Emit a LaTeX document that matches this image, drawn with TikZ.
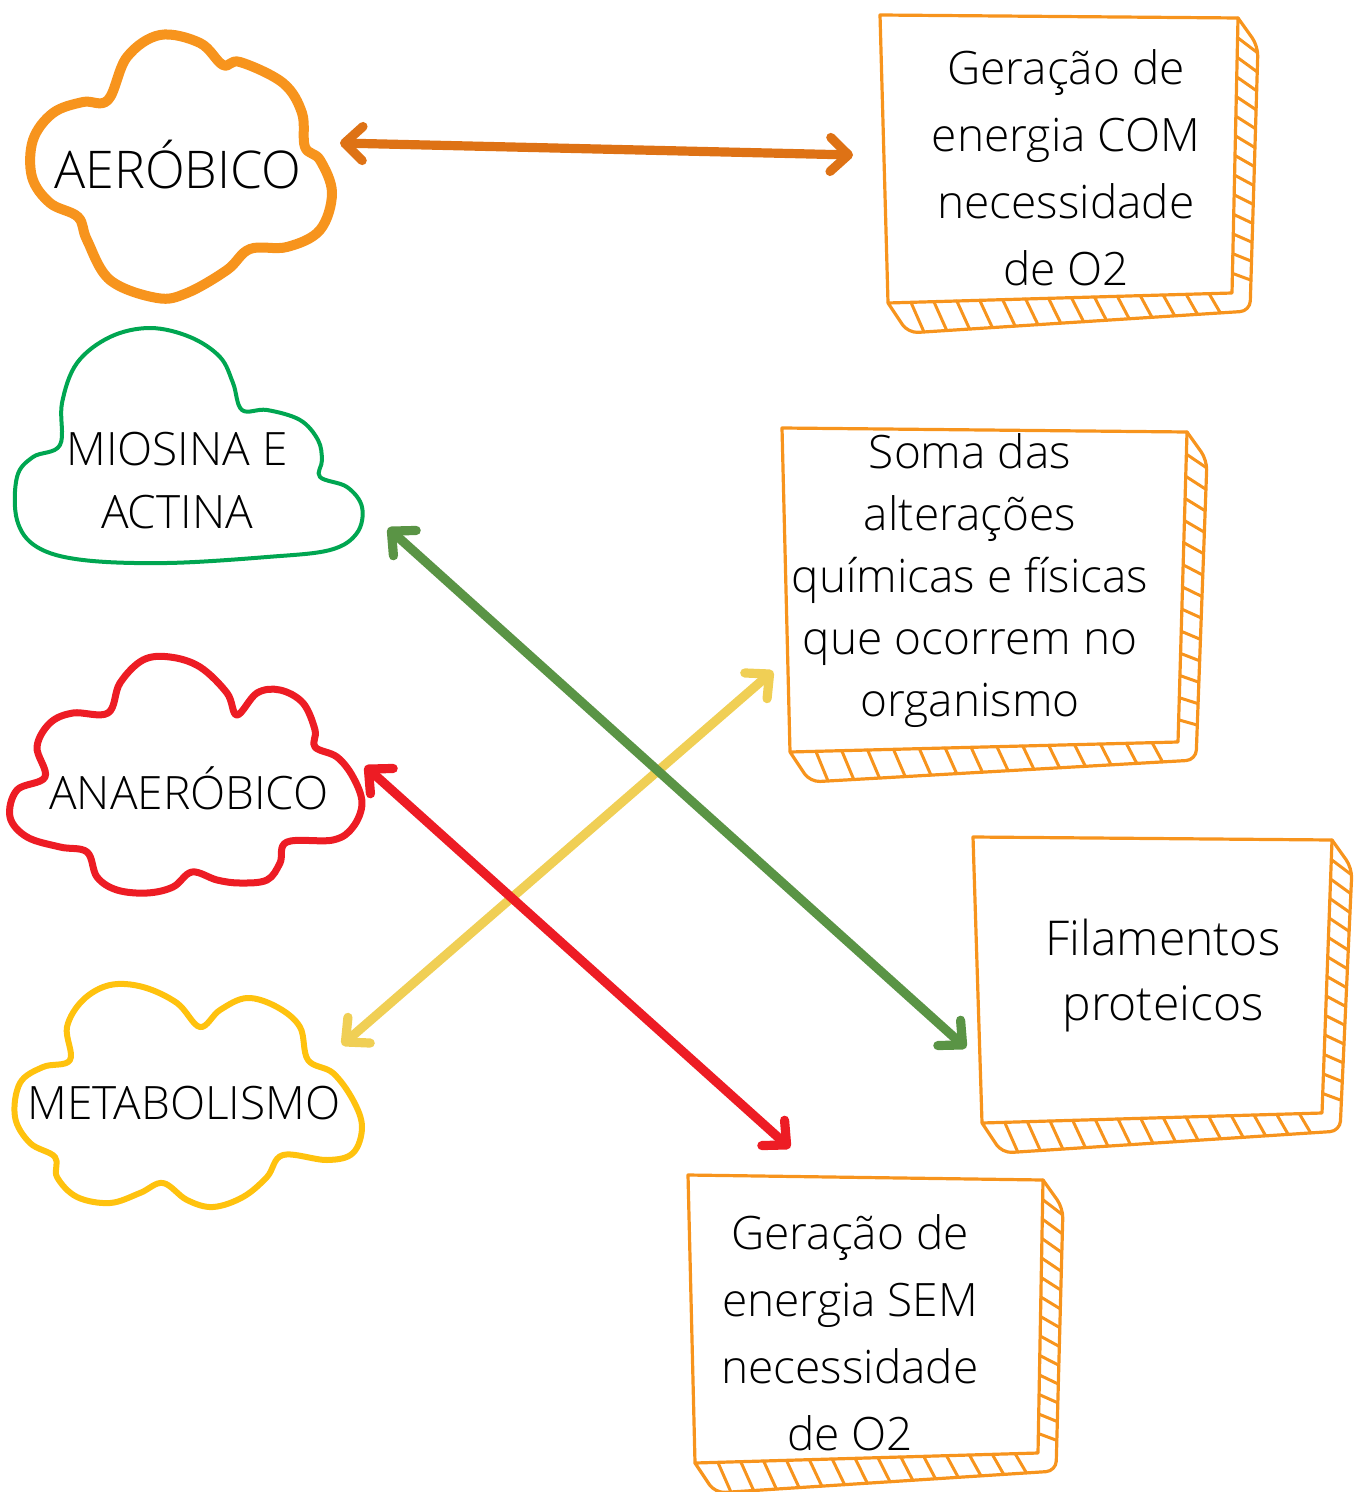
\documentclass[tikz,border=0pt]{standalone}
\usepackage{fontspec}
\setmainfont{Open Sans Light}
\usetikzlibrary{arrows.meta,calc}

\definecolor{aerorange}{HTML}{F7941D}
\definecolor{boxorange}{HTML}{F7941D}
\definecolor{arrorange}{HTML}{DE7215}
\definecolor{miogreen}{HTML}{00A651}
\definecolor{arrgreen}{HTML}{5A9445}
\definecolor{anared}{HTML}{ED1C24}
\definecolor{metayellow}{HTML}{FFC20E}
\definecolor{arryellow}{HTML}{F0CF55}

\tikzset{
  boxline/.style={draw=boxorange, line width=1.6pt, line join=round, line cap=round},
  hatch/.style={draw=boxorange, line width=1.5pt, line cap=round},
  cloud/.style={line join=round, line cap=round},
  txt/.style={align=center, inner sep=0pt, font=\fontsize{23}{33.5}\selectfont},
  link/.style={line width=4.6pt, line cap=round,
    {Straight Barb[length=9pt,width=17pt,round]}-{Straight Barb[length=9pt,width=17pt,round]}},
}

% box with hatched shadow on the right and bottom
\newcommand{\crate}[5]{%
  \coordinate (#1-tl) at #2; \coordinate (#1-tr) at #3;
  \coordinate (#1-br) at #4; \coordinate (#1-bl) at #5;
  \coordinate (#1-otr) at ($(#1-tr)+(20,28)$);
  \coordinate (#1-obr) at ($(#1-br)+(18,18)$);
  \coordinate (#1-obl) at ($(#1-bl)+(20,30)$);
  \draw[boxline] (#1-tl) -- (#1-tr) -- (#1-br) -- (#1-bl) -- cycle;
  \draw[boxline, rounded corners=5pt] (#1-tr) -- (#1-otr) -- (#1-obr) -- (#1-obl) -- (#1-bl);
  \foreach \k in {1,...,13}
    \draw[hatch] ($(#1-tr)!\k/14!(#1-br)$) -- ($(#1-otr)!\k/14-0.045!(#1-obr)$);
  \foreach \k in {1,...,14}
    \draw[hatch] ($(#1-bl)!\k/15!(#1-br)$) -- ($(#1-obl)!\k/15-0.02!(#1-obr)$);
}

\begin{document}
\begin{tikzpicture}[x=0.5pt, y=-0.5pt]
  \useasboundingbox (0,0) rectangle (1360,1492);

  % clouds
  \draw[cloud, aerorange, line width=5pt] plot[smooth cycle, tension=0.6] coordinates {
    (108,100) (127,57) (160,35) (200,43) (223,65) (240,62) (283,83) (302,113)
    (305,147) (320,160) (332,193) (320,230) (287,247) (250,249) (227,270)
    (187,293) (157,298) (110,280) (87,240) (78,217) (50,203) (32,177) (33,140)
    (53,113) (83,102)};
  \draw[cloud, miogreen, line width=2pt] plot[smooth cycle, tension=0.6] coordinates {
    (60,445) (62,403) (77,363) (110,337) (150,328) (190,337) (220,357) (233,383)
    (242,410) (267,410) (300,420) (318,440) (322,460) (320,477) (347,487)
    (362,507) (357,533) (330,550) (267,557) (167,563) (83,560) (37,547)
    (17,520) (17,477) (33,457)};
  \draw[cloud, anared, line width=3.5pt] plot[smooth cycle, tension=0.6] coordinates {
    (45,777) (37,747) (50,723) (73,713) (108,713) (120,683) (143,660) (170,657)
    (200,667) (227,693) (237,715) (257,693) (280,690) (303,703) (315,730)
    (315,747) (337,757) (353,777) (362,803) (353,827) (333,840) (287,842)
    (280,863) (267,880) (240,883) (217,880) (192,872) (173,887) (147,893)
    (117,890) (97,877) (87,852) (60,847) (27,837) (10,817) (17,790)};
  \draw[cloud, metayellow, line width=3pt] plot[smooth cycle, tension=0.6] coordinates {
    (70,1060) (67,1027) (83,1000) (110,985) (143,987) (177,1003) (200,1027)
    (220,1010) (247,998) (277,1007) (300,1027) (308,1060) (333,1073) (353,1100)
    (362,1127) (353,1153) (327,1160) (283,1155) (267,1177) (243,1197)
    (213,1207) (187,1200) (163,1183) (140,1193) (110,1203) (77,1197) (57,1177)
    (55,1157) (30,1143) (15,1117) (20,1083) (43,1067)};

  \node[txt, font=\fontsize{26}{30}\selectfont] at (178,165) (aer) {AERÓBICO};
  \node[txt, font=\fontsize{23}{31.5}\selectfont] at (177,481) (mio) {MIOSINA E\\ACTINA};
  \node[txt] at (189,788) (ana) {ANAERÓBICO};
  \node[txt] at (184,1103) (meta) {METABOLISMO};

  % boxes
  \crate{com}{(880,15)}{(1238,18)}{(1232,293)}{(888,303)}
  \crate{soma}{(782,428)}{(1187,432)}{(1178,742)}{(790,752)}
  \crate{fil}{(973,837)}{(1332,840)}{(1322,1113)}{(982,1123)}
  \crate{sem}{(688,1175)}{(1043,1180)}{(1038,1453)}{(695,1463)}

  \node[txt] at (1066,168) (com) {Geração de\\energia COM\\necessidade\\de O2};
  \node[txt, font=\fontsize{23}{31}\selectfont] at (970,581) (soma)
    {Soma das\\alterações\\químicas e físicas\\que ocorrem no\\organismo};
  \node[txt, font=\fontsize{24}{32.5}\selectfont] at (1163,976) (fil) {Filamentos\\proteicos};
  \node[txt] at (850,1333) (sem) {Geração de\\energia SEM\\necessidade\\de O2};

  % arrow ends
  \coordinate (aerEnd) at (340,143);
  \coordinate (comEnd) at (853,155);
  \coordinate (mioEnd) at (388,528);
  \coordinate (filEnd) at (966,1048);
  \coordinate (somaEnd) at (773,671);
  \coordinate (metaEnd) at (342,1045);
  \coordinate (anaEnd) at (365,766);
  \coordinate (semEnd) at (790,1148);

  \draw[link, arrorange] (aerEnd) -- (comEnd);
  \draw[link, arryellow] (metaEnd) -- (somaEnd);
  \draw[link, arrgreen] (mioEnd) -- (filEnd);
  \draw[link, anared] (anaEnd) -- (semEnd);
\end{tikzpicture}
\end{document}
